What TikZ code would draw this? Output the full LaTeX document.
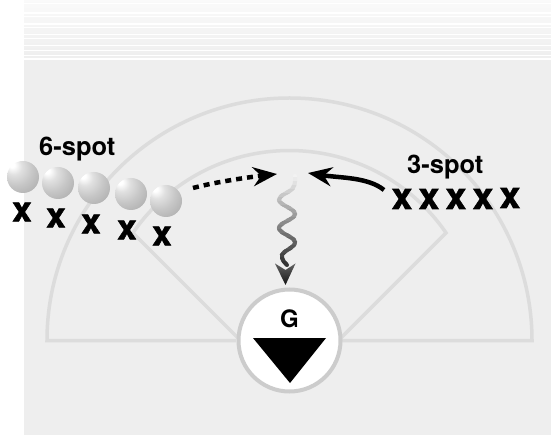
\documentclass[tikz,border=0pt]{standalone}
\usepackage{fontspec}
\setmainfont{TeX Gyre Heros}
\newfontfamily\markfont{TeX Gyre Heros}[BoldFeatures={FakeBold=1.5}]
\usetikzlibrary{arrows.meta}

\definecolor{field}{HTML}{EEEEEE}
\definecolor{chalk}{HTML}{DCDCDC}
\definecolor{rim}{HTML}{CCCCCC}

% shaded ball with highlight up and to the left
\pgfdeclareradialshading{spotball}{\pgfpoint{-18bp}{20bp}}{%
  color(0bp)=(white); color(4bp)=(white); color(13bp)=(black!12);
  color(26bp)=(black!22); color(42bp)=(black!32); color(60bp)=(black!42);
  color(75bp)=(black!52)}

\begin{document}
\begin{tikzpicture}[x=1pt, y=-1pt,
  chalkline/.style={draw=chalk, line width=3.5pt, line join=miter},
  spotline/.style={draw=black, line width=4.5pt},
  ballnode/.style={circle, minimum size=32pt, inner sep=0pt, shade, shading=spotball},
  xmark/.style={inner sep=0pt, font=\markfont\bfseries\fontsize{#1}{#1}\selectfont},
  spotlabel/.style={inner sep=0pt, anchor=base west, font=\bfseries\fontsize{25.5}{28}\selectfont},
  tip/.style={-{Stealth[length=24pt, width=19pt, inset=8pt]}}
]
\useasboundingbox (0,0) rectangle (551,435);

% page and field
\fill[white] (0,0) rectangle (551,435);
\fill[field] (24,0) rectangle (551,435);
\shade[top color=white!98!black, bottom color=field] (24,0) rectangle (551,60);
\foreach \s in {3.5,13,16.5,24,27.4,34.4,38.7,45.7,50.2,55.2,59}
  \draw[white, line width=1.2pt] (24,\s) -- (551,\s);

% outer arc with its base line
\draw[chalkline] (236,340.5) -- (47,340.5)
  arc[start angle=180, end angle=360, radius=242.5] -- (342,340.5);
% inner arc with its two diagonals
\draw[chalkline] (240.5,340.5) -- ++(-107.6,-107.6)
  arc[start angle=214.5, end angle=325.5, radius=190] -- ++(-107.6,107.6);

% goal
\node[circle, draw=rim, line width=4pt, fill=white, minimum size=102pt, inner sep=0pt]
  (goal) at (289.5,340.5) {};
\node[inner sep=0pt, font=\bfseries\fontsize{24}{24}\selectfont] (glabel) at (289.5,318.5) {G};
\fill[black] (253,338) -- (326,338) -- (290,383) -- cycle;

% 6-spot line of balls and players
\foreach \n/\bx/\by in {1/23/177, 2/58/183, 3/94/188, 4/131/194, 5/166/201}
  \node[ballnode] (ball\n) at (\bx,\by) {};
\foreach \n/\px/\py in {1/22/212, 2/56/218, 3/91/224, 4/127/230, 5/162/236}
  \node[xmark=35] (six\n) at (\px,\py) {x};
\node[spotlabel] (sixlabel) at (39,156) {6-spot};

% 3-spot players
\foreach \n/\px/\py in {1/402/199, 2/429/199, 3/456/199, 4/483/199, 5/510/198}
  \node[xmark=37] (three\n) at (\px,\py) {x};
\node[spotlabel] (threelabel) at (407,173.5) {3-spot};

% passes to the meeting point
\coordinate (dotS) at (193,188);
\coordinate (dotE) at (277,174);
\coordinate (solS) at (384,190);
\coordinate (solE) at (308,173);
\draw[spotline, dash pattern=on 6pt off 5pt, tip]
  (dotS) .. controls (215,182) and (250,177) .. (dotE);
\draw[spotline, tip]
  (solS) .. controls (368,177) and (340,178) .. (solE);

% shot: wavy line darkening toward the goal
\coordinate (shotS) at (295,176);
\coordinate (shotE) at (285.5,285);
\foreach \k in {0,...,22} {
  \pgfmathsetmacro\tone{5+\k*3.4}
  \begin{scope}
    \clip (268,174+\k*4) rectangle (306,178.2+\k*4);
    \draw[black!\tone, line width=4pt, line cap=round]
      plot[smooth, tension=0.7] coordinates
      {(295,176) (293,188) (279,200) (295,214) (279,228) (295,242) (282,255) (287,265)};
  \end{scope}
}
\shade[top color=black!62, bottom color=black!92]
  (275,263.5) -- (285.5,270) -- (295.5,263.5) -- (shotE) -- cycle;
\end{tikzpicture}
\end{document}
